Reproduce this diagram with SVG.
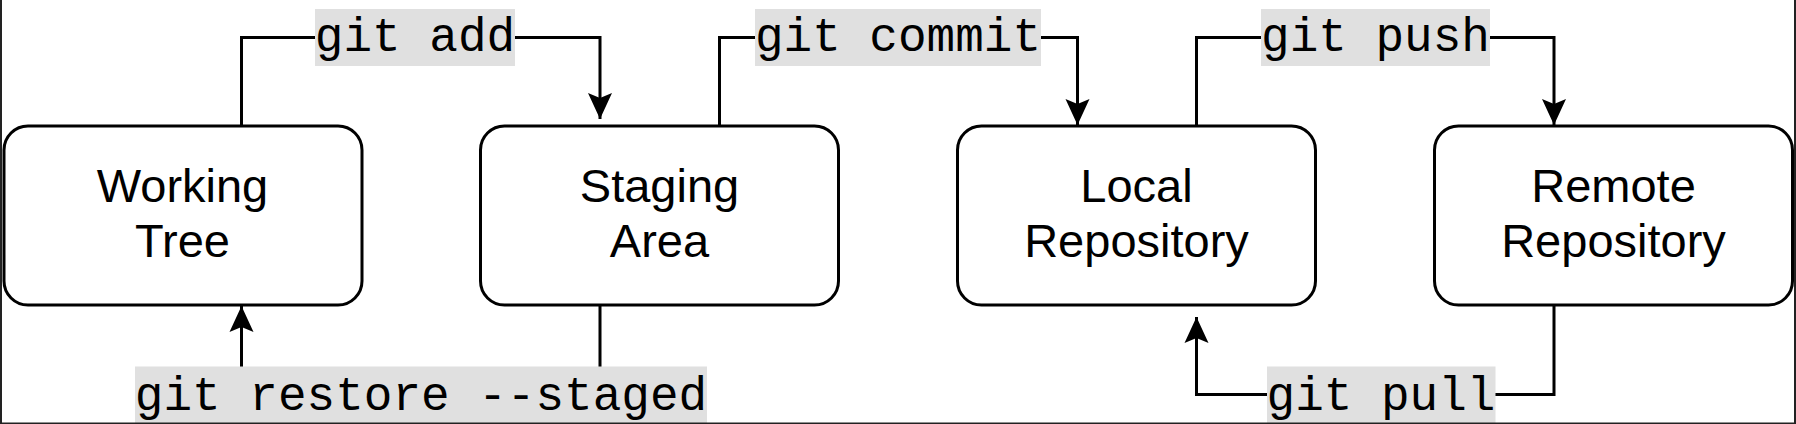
<svg xmlns="http://www.w3.org/2000/svg" width="1796" height="424" viewBox="0 0 1796 424">
  <style>
    .box { fill: #ffffff; stroke: #000000; stroke-width: 3; }
    .name { font-family: "Liberation Sans", Arial, sans-serif; font-size: 47px; fill: #000000; text-anchor: middle; }
    .edge { fill: none; stroke: #000000; stroke-width: 3; }
    .lblbg { fill: #e0e0e0; }
    .lbl { font-family: "Liberation Mono", "Courier New", monospace; font-size: 47.7px; fill: #000000; text-anchor: middle; }
    .frame { fill: #222222; }
  </style>
  <defs>
    <marker id="arrow" markerUnits="userSpaceOnUse" markerWidth="27" markerHeight="25" viewBox="0 0 27 25" refX="26" refY="12.5" orient="auto">
      <path d="M0,0.5 L26,12.5 L0,24.5 L5,12.5 Z" fill="#000000"/>
    </marker>
  </defs>
  <rect x="0" y="0" width="1796" height="424" fill="#ffffff"/>

  <g id="connectors">
    <g id="edge-add">
      <path class="edge" d="M241.5,126 V37.5 H600 V119" marker-end="url(#arrow)"/>
      <rect class="lblbg" x="315" y="9" width="200" height="57"/>
      <text class="lbl" x="415" y="51">git add</text>
    </g>
    <g id="edge-commit">
      <path class="edge" d="M719.5,126 V37.5 H1077.5 V125" marker-end="url(#arrow)"/>
      <rect class="lblbg" x="755" y="9" width="286" height="57"/>
      <text class="lbl" x="898" y="51">git commit</text>
    </g>
    <g id="edge-push">
      <path class="edge" d="M1196.5,126 V37.5 H1554 V125" marker-end="url(#arrow)"/>
      <rect class="lblbg" x="1261" y="9" width="229" height="57"/>
      <text class="lbl" x="1375.5" y="51">git push</text>
    </g>
    <g id="edge-restore">
      <path class="edge" d="M600,305 V394.5 H241.5 V306" marker-end="url(#arrow)"/>
      <rect class="lblbg" x="135" y="366.5" width="572" height="57.5"/>
      <text class="lbl" x="421" y="409.5">git restore --staged</text>
    </g>
    <g id="edge-pull">
      <path class="edge" d="M1554,305 V394.5 H1196.5 V317" marker-end="url(#arrow)"/>
      <rect class="lblbg" x="1267" y="366.5" width="228.5" height="57.5"/>
      <text class="lbl" x="1381" y="409.5">git pull</text>
    </g>
  </g>

  <g id="node-working-tree">
    <rect class="box" x="4" y="126" width="358" height="179" rx="24" ry="24"/>
    <text class="name" x="182.5" y="201.5">Working</text>
    <text class="name" x="182.5" y="257">Tree</text>
  </g>
  <g id="node-staging-area">
    <rect class="box" x="480.5" y="126" width="358" height="179" rx="24" ry="24"/>
    <text class="name" x="659.5" y="201.5">Staging</text>
    <text class="name" x="659.5" y="257">Area</text>
  </g>
  <g id="node-local-repository">
    <rect class="box" x="957.5" y="126" width="358" height="179" rx="24" ry="24"/>
    <text class="name" x="1136.5" y="201.5">Local</text>
    <text class="name" x="1136.5" y="257">Repository</text>
  </g>
  <g id="node-remote-repository">
    <rect class="box" x="1434.5" y="126" width="358" height="179" rx="24" ry="24"/>
    <text class="name" x="1613.5" y="201.5">Remote</text>
    <text class="name" x="1613.5" y="257">Repository</text>
  </g>

  <rect class="frame" x="0" y="0" width="2" height="424"/>
  <rect class="frame" x="1794" y="0" width="2" height="424"/>
  <rect class="frame" x="0" y="422.5" width="1796" height="1.5"/>
</svg>
